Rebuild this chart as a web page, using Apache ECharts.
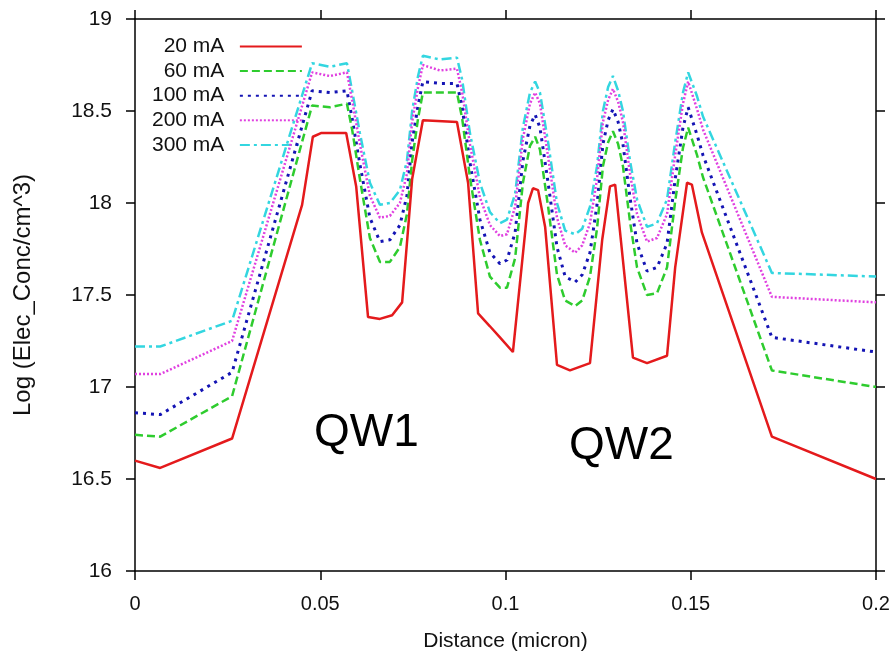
<!DOCTYPE html>
<html>
<head>
<meta charset="utf-8">
<script src="https://cdn.jsdelivr.net/npm/echarts@6/dist/echarts.min.js"></script>
<style>
html,body{margin:0;padding:0;background:#fff;}
#chart{width:893px;height:658px;}
</style>
</head>
<body>
<div id="chart"></div>
<script>
// ---- data ----
const seriesNames = ['20 mA', '60 mA', '100 mA', '200 mA', '300 mA'];

const xRed = [0,0.0068,0.0262,0.0451,0.0480,0.0502,0.0570,0.0597,0.0629,0.0661,
  0.0694,0.0721,0.0748,0.0777,0.0869,0.0899,0.0926,0.0958,0.0985,0.1020,
  0.1053,0.1061,0.1074,0.1088,0.1107,0.1139,0.1174,0.1228,0.1261,0.1282,
  0.1296,0.1344,0.1382,0.1436,0.1458,0.1490,0.1503,0.1530,0.1719,0.2];
const y20 = [16.60,16.56,16.72,17.99,18.36,18.38,18.38,18.09,17.38,17.37,
  17.39,17.46,18.13,18.45,18.44,18.11,17.40,17.33,17.27,17.19,
  17.84,18.00,18.08,18.07,17.87,17.12,17.09,17.13,17.80,18.09,
  18.10,17.16,17.13,17.17,17.65,18.11,18.10,17.84,16.73,16.50];

const xGrid = [0,0.0068,0.0262,0.0478,0.0526,0.0572,0.0586,0.0607,0.0634,0.0661,
  0.0688,0.0715,0.0734,0.0748,0.0764,0.0777,0.0823,0.0869,0.0883,0.0904,
  0.0931,0.0958,0.0985,0.1004,0.1026,0.1047,0.1066,0.1080,0.1093,0.1115,
  0.1139,0.1161,0.1188,0.1207,0.1228,0.1247,0.1263,0.1277,0.1290,0.1304,
  0.1317,0.1336,0.1355,0.1382,0.1409,0.1436,0.1458,0.1479,0.1493,0.1517,
  0.1533,0.1719,0.2];
const y60 = [16.74,16.73,16.95,18.53,18.52,18.54,18.40,18.13,17.81,17.68,
  17.68,17.76,17.94,18.23,18.46,18.60,18.60,18.60,18.46,18.14,
  17.80,17.60,17.54,17.54,17.70,18.11,18.31,18.36,18.29,17.98,
  17.61,17.47,17.44,17.47,17.60,17.86,18.20,18.33,18.39,18.32,
  18.20,17.90,17.65,17.50,17.51,17.65,18.01,18.30,18.41,18.26,
  18.14,17.09,17.00];
const y100 = [16.86,16.85,17.08,18.61,18.60,18.61,18.46,18.21,17.92,17.79,
  17.80,17.88,18.04,18.33,18.53,18.66,18.65,18.65,18.52,18.22,
  17.91,17.73,17.67,17.69,17.84,18.23,18.42,18.48,18.41,18.11,
  17.76,17.60,17.57,17.61,17.73,17.99,18.32,18.45,18.51,18.44,
  18.32,18.03,17.78,17.63,17.65,17.78,18.13,18.41,18.52,18.37,
  18.26,17.27,17.19];
const y200 = [17.07,17.07,17.25,18.71,18.69,18.71,18.56,18.32,18.04,17.92,
  17.93,18.00,18.16,18.44,18.63,18.75,18.72,18.73,18.60,18.32,
  18.03,17.88,17.82,17.83,17.98,18.35,18.54,18.60,18.54,18.25,
  17.92,17.77,17.73,17.77,17.89,18.13,18.44,18.56,18.62,18.55,
  18.44,18.16,17.94,17.79,17.81,17.94,18.26,18.54,18.66,18.51,
  18.40,17.49,17.46];
const y300 = [17.22,17.22,17.36,18.76,18.74,18.76,18.61,18.38,18.11,17.99,
  18.00,18.07,18.23,18.50,18.69,18.80,18.78,18.79,18.67,18.38,
  18.11,17.95,17.89,17.91,18.05,18.41,18.60,18.66,18.60,18.33,
  18.00,17.85,17.83,17.86,17.98,18.20,18.50,18.63,18.69,18.61,
  18.50,18.23,18.02,17.87,17.89,18.02,18.33,18.60,18.71,18.58,
  18.47,17.62,17.60];

const xTickLabels = ['0', '0.05', '0.1', '0.15', '0.2'];
const yTickLabels = ['16', '16.5', '17', '17.5', '18', '18.5', '19'];
const annotations = ['QW1', 'QW2'];

// ---- build ----
function zip(xs, ys) { return xs.map((x, i) => [x, ys[i]]); }

const styles = [
  { color: '#e41a1c', type: 'solid', width: 2.5 },
  { color: '#2ecc2e', type: [8, 4], width: 2.5 },
  { color: '#1414b4', type: [3, 5], width: 3 },
  { color: '#e040e0', type: [2, 2], width: 2.5 },
  { color: '#33d6e0', type: [10, 4, 3, 4], width: 2.5 }
];
const dataSets = [zip(xRed, y20), zip(xGrid, y60), zip(xGrid, y100), zip(xGrid, y200), zip(xGrid, y300)];

const FONT = '"Liberation Sans", Arial, Helvetica, sans-serif';

const axisCommonX = {
  type: 'value', min: 0, max: 0.2, interval: 0.05,
  axisLine: { show: true, onZero: false, lineStyle: { color: '#000', width: 1.5 } },
  axisTick: { show: true, inside: false, length: 9, lineStyle: { color: '#000', width: 1.5 } },
  splitLine: { show: false }
};
const axisCommonY = {
  type: 'value', min: 16, max: 19, interval: 0.5,
  axisLine: { show: true, onZero: false, lineStyle: { color: '#000', width: 1.5 } },
  axisTick: { show: true, inside: false, length: 9, lineStyle: { color: '#000', width: 1.5 } },
  splitLine: { show: false }
};

const chart = echarts.init(document.getElementById('chart'), null, { renderer: 'canvas' });
chart.setOption({
  animation: false,
  backgroundColor: '#fff',
  textStyle: { fontFamily: FONT },
  grid: { left: 135, right: 17, top: 19, bottom: 87, containLabel: false },
  legend: {
    show: true,
    orient: 'vertical',
    align: 'right',
    left: 147,
    top: 31,
    itemWidth: 62,
    itemHeight: 14,
    itemGap: 3.6,
    data: seriesNames,
    itemStyle: { opacity: 0 },
    formatter: n => n + '\u2002',
    textStyle: { fontSize: 21, color: '#111', fontFamily: FONT }
  },
  xAxis: [
    Object.assign({}, axisCommonX, {
      position: 'bottom',
      name: 'Distance (micron)', nameLocation: 'middle', nameGap: 60,
      nameTextStyle: { fontSize: 21, color: '#111', fontFamily: FONT },
      axisLabel: { show: true, margin: 23, fontSize: 20, color: '#111', fontFamily: FONT,
        formatter: v => xTickLabels[Math.round(v / 0.05)] }
    }),
    Object.assign({}, axisCommonX, { position: 'top', axisLabel: { show: false } })
  ],
  yAxis: [
    Object.assign({}, axisCommonY, {
      position: 'left',
      name: 'Log (Elec_Conc/cm^3)', nameLocation: 'middle', nameGap: 100, nameRotate: 90,
      nameTextStyle: { fontSize: 24, color: '#111', fontFamily: FONT },
      axisLabel: { show: true, margin: 23, fontSize: 21, color: '#111', fontFamily: FONT,
        formatter: v => yTickLabels[Math.round((v - 16) / 0.5)] }
    }),
    Object.assign({}, axisCommonY, { position: 'right', axisLabel: { show: false } })
  ],
  graphic: [
    { type: 'text', left: 314, top: 410, style: { text: annotations[0], fontSize: 46, fill: '#000', fontFamily: FONT } },
    { type: 'text', left: 569, top: 423, style: { text: annotations[1], fontSize: 46, fill: '#000', fontFamily: FONT } }
  ],
  series: seriesNames.map((n, i) => ({
    name: n,
    type: 'line',
    xAxisIndex: 0, yAxisIndex: 0,
    data: dataSets[i],
    showSymbol: false,
    symbol: 'none',
    z: 10 - i,
    lineStyle: { color: styles[i].color, type: styles[i].type, width: styles[i].width },
    itemStyle: { color: styles[i].color }
  }))
});
</script>
</body>
</html>
